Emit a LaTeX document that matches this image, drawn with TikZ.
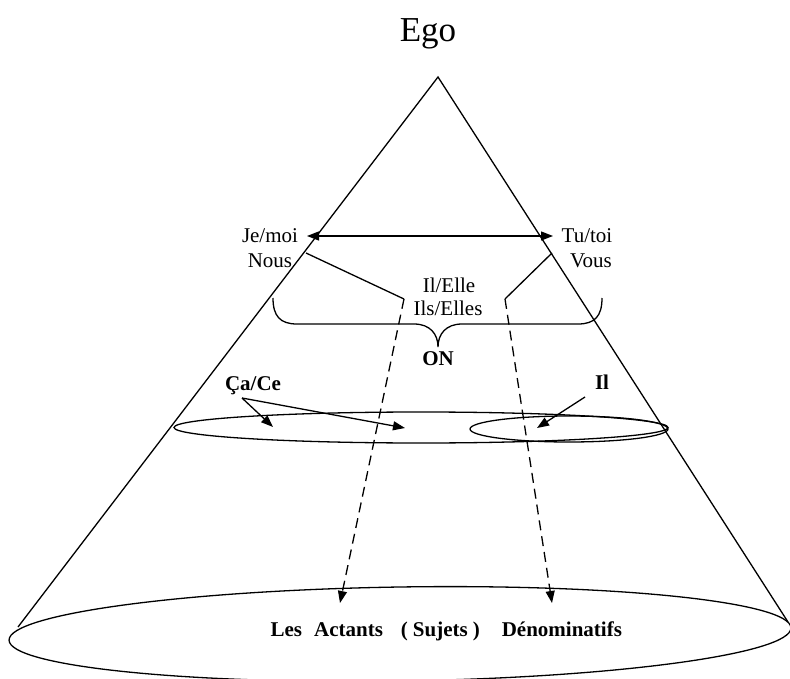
\documentclass[tikz,border=0pt]{standalone}
\usepackage{fontspec}
\setmainfont{Liberation Serif}
\usetikzlibrary{arrows.meta}
\begin{document}
\begin{tikzpicture}[x=1pt,y=1pt,
  line width=1.3pt,
  lbl/.style={inner sep=0pt, anchor=base, font=\fontsize{21}{24}\selectfont},
  blbl/.style={inner sep=0pt, anchor=base, font=\fontsize{21}{24}\selectfont\bfseries},
  tip/.style={-{Triangle[length=12pt,width=9pt]}},
  dtip/.style={{Triangle[length=12pt,width=9pt]}-{Triangle[length=12pt,width=9pt]}},
  dsh/.style={dash pattern=on 10pt off 6pt}]
\useasboundingbox (0,0) rectangle (790,-679);
% cone
\coordinate (apex) at (438,-77);
\coordinate (bl) at (18,-627);
\coordinate (br) at (788,-622);
\draw (bl) -- (apex) -- (br);
\draw[rotate around={0.9:(400,-634)}] (400,-634) ellipse [x radius=391, y radius=47];
% middle ellipses
\draw (421,-427.5) ellipse [x radius=247, y radius=15.5];
\draw (569,-429) ellipse [x radius=99, y radius=13];
% texts
\node[inner sep=0pt, anchor=base, font=\fontsize{35}{40}\selectfont] (ego) at (428,-42) {Ego};
\node[lbl] (je) at (270,-243) {Je/moi};
\node[lbl] (nous) at (270,-267) {Nous};
\node[lbl] (tu) at (587,-243) {Tu/toi};
\node[lbl] (vous) at (591,-267) {Vous};
\node[lbl] (il1) at (449,-292) {Il/Elle};
\node[lbl] (il2) at (448,-316) {Ils/Elles};
\node[blbl] (on) at (438,-365) {ON};
\node[blbl] (ca) at (253,-390) {Ça/Ce};
\node[blbl] (il) at (602,-389) {Il};
\node[blbl, anchor=base west] (act) at (270,-636) {Les\hspace{12pt}Actants\hspace{18pt}(\hspace{5pt}Sujets\hspace{5pt})\hspace{22pt}Dénominatifs};
% double arrow
\coordinate (da) at (307,-236);
\coordinate (db) at (553,-236);
\draw[dtip] (da) -- (db);
% left path
\coordinate (l0) at (306,-253);
\coordinate (l1) at (404,-299);
\coordinate (l2) at (340,-603);
\draw (l0) -- (l1);
\draw[dsh, tip] (l1) -- (l2);
% right path
\coordinate (r0) at (552,-253);
\coordinate (r1) at (505,-299);
\coordinate (r2) at (552,-603);
\draw (r0) -- (r1);
\draw[dsh, tip] (r1) -- (r2);
% brace
\draw (273,-298) .. controls (273,-316) and (280,-324) .. (297,-324) -- (414,-324)
  .. controls (430,-324) and (438,-334) .. (438,-347)
  .. controls (438,-334) and (446,-324) .. (462,-324) -- (578,-324)
  .. controls (595,-324) and (602,-316) .. (602,-298);
% Ça/Ce arrows
\coordinate (c0) at (242,-398);
\coordinate (c1) at (273,-427);
\coordinate (c2) at (405,-428);
\draw[tip] (c0) -- (c1);
\draw[tip] (c0) -- (c2);
% Il arrow
\coordinate (i0) at (585,-397);
\coordinate (i1) at (537,-428);
\draw[tip] (i0) -- (i1);
\end{tikzpicture}
\end{document}
